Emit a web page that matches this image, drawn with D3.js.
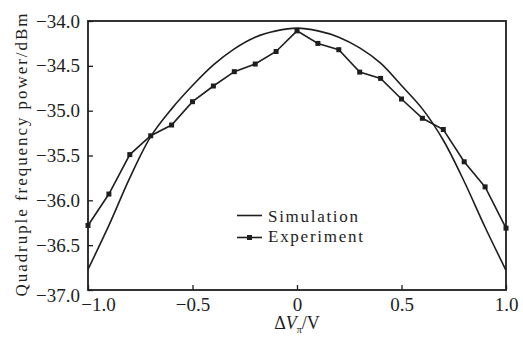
<!DOCTYPE html>
<html><head><meta charset="utf-8">
<script src="https://cdn.jsdelivr.net/npm/d3@7"></script>
<style>
html,body{margin:0;padding:0;background:#fff;}
svg{display:block;}
</style></head>
<body>
<svg id="chart" width="523" height="340"></svg>
<script>
// ---- data ----
const voltages = [-1.0,-0.9,-0.8,-0.7,-0.6,-0.5,-0.4,-0.3,-0.2,-0.1,0,0.1,0.2,0.3,0.4,0.5,0.6,0.7,0.8,0.9,1.0];
const simulation = [-36.77,-36.28,-35.75,-35.29,-34.98,-34.72,-34.49,-34.31,-34.18,-34.11,-34.08,-34.11,-34.18,-34.30,-34.47,-34.72,-34.98,-35.33,-35.79,-36.30,-36.78];
const experiment = [-36.28,-35.93,-35.49,-35.28,-35.16,-34.90,-34.725,-34.565,-34.48,-34.34,-34.11,-34.25,-34.32,-34.57,-34.64,-34.87,-35.085,-35.21,-35.57,-35.85,-36.31];
const xTicks = [-1.0,-0.5,0,0.5,1.0];
const yTicks = [-37.0,-36.5,-36.0,-35.5,-35.0,-34.5,-34.0];
const seriesNames = ["Simulation","Experiment"];
const yTitle = "Quadruple frequency power/dBm";

// ---- layout ----
const W = 523, H = 340;
const m = {left:88, right:17, top:21, bottom:50};
const iw = W - m.left - m.right, ih = H - m.top - m.bottom;
const ink = "#1e1e1e";
const FONT = "'Liberation Serif', 'Times New Roman', Times, serif";

const svg = d3.select("#chart");
svg.append("rect").attr("width",W).attr("height",H).attr("fill","#fff");
const g = svg.append("g").attr("transform",`translate(${m.left},${m.top})`);

const x = d3.scaleLinear().domain([-1,1]).range([0,iw]);
const y = d3.scaleLinear().domain([-37,-34]).range([ih,0]);

// frame
g.append("rect").attr("x",0).attr("y",0).attr("width",iw).attr("height",ih)
  .attr("fill","none").attr("stroke",ink).attr("stroke-width",1.8);

// x axis
const xAxis = g.append("g").attr("transform",`translate(0,${ih})`)
  .call(d3.axisBottom(x).tickValues(xTicks).tickSizeInner(-5).tickSizeOuter(0).tickPadding(8)
    .tickFormat(d => d===0 ? "0" : d3.format(".1f")(d)));
xAxis.attr("font-family",null);
xAxis.select(".domain").remove();
xAxis.selectAll("line").attr("stroke",ink).attr("stroke-width",1.3);
xAxis.selectAll("text").style("font-family",FONT).style("font-size","19px").attr("fill",ink);
xAxis.selectAll("text").filter(d => d===-1).attr("dx",10);

// y axis
const yAxis = g.append("g")
  .call(d3.axisLeft(y).tickValues(yTicks).tickSizeInner(-5).tickSizeOuter(0).tickPadding(8)
    .tickFormat(d3.format(".1f")));
yAxis.attr("font-family",null);
yAxis.select(".domain").remove();
yAxis.selectAll("line").attr("stroke",ink).attr("stroke-width",1.3);
yAxis.selectAll("text").style("font-family",FONT).style("font-size","19px").attr("fill",ink);
yAxis.selectAll("text").filter(d => d===-37).attr("dy","0.6em");

// lines
const simData = voltages.map((v,i)=>[v,simulation[i]]);
const expData = voltages.map((v,i)=>[v,experiment[i]]);
const lineSmooth = d3.line().x(d=>x(d[0])).y(d=>y(d[1])).curve(d3.curveCatmullRom.alpha(0.5));
const lineStraight = d3.line().x(d=>x(d[0])).y(d=>y(d[1]));

g.append("path").datum(simData).attr("d",lineSmooth)
  .attr("fill","none").attr("stroke",ink).attr("stroke-width",1.6);
g.append("path").datum(expData).attr("d",lineStraight)
  .attr("fill","none").attr("stroke",ink).attr("stroke-width",1.6);
const ms = 5;
g.selectAll("rect.mk").data(expData).join("rect").attr("class","mk")
  .attr("x",d=>x(d[0])-ms/2).attr("y",d=>y(d[1])-ms/2)
  .attr("width",ms).attr("height",ms).attr("fill",ink);

// legend
const lg = svg.append("g");
lg.append("line").attr("x1",237).attr("x2",262).attr("y1",215.5).attr("y2",215.5)
  .attr("stroke",ink).attr("stroke-width",1.6);
lg.append("line").attr("x1",237).attr("x2",262).attr("y1",237.5).attr("y2",237.5)
  .attr("stroke",ink).attr("stroke-width",1.6);
lg.append("rect").attr("x",249.5-ms/2).attr("y",237.5-ms/2).attr("width",ms).attr("height",ms).attr("fill",ink);
lg.append("text").attr("x",268).attr("y",222).style("font-family",FONT).style("font-size","17px").attr("fill",ink)
  .attr("textLength",90).attr("lengthAdjust","spacing").text(seriesNames[0]);
lg.append("text").attr("x",268).attr("y",242).style("font-family",FONT).style("font-size","17px").attr("fill",ink)
  .attr("textLength",95).attr("lengthAdjust","spacing").text(seriesNames[1]);

// y title
svg.append("text").attr("transform","translate(27,155) rotate(-90)")
  .attr("text-anchor","middle").style("font-family",FONT).style("font-size","17px").attr("fill",ink)
  .attr("textLength",283).attr("lengthAdjust","spacing").text(yTitle);

// x title
const xt = svg.append("text").attr("x",297).attr("y",329).attr("text-anchor","middle")
  .style("font-family",FONT).style("font-size","18px").attr("fill",ink);
xt.append("tspan").text("\u0394");
xt.append("tspan").attr("font-style","italic").text("V");
xt.append("tspan").style("font-size","10px").attr("dy",4).text("\u03c0");
xt.append("tspan").attr("dy",-4).text("/V");
</script>
</body></html>
